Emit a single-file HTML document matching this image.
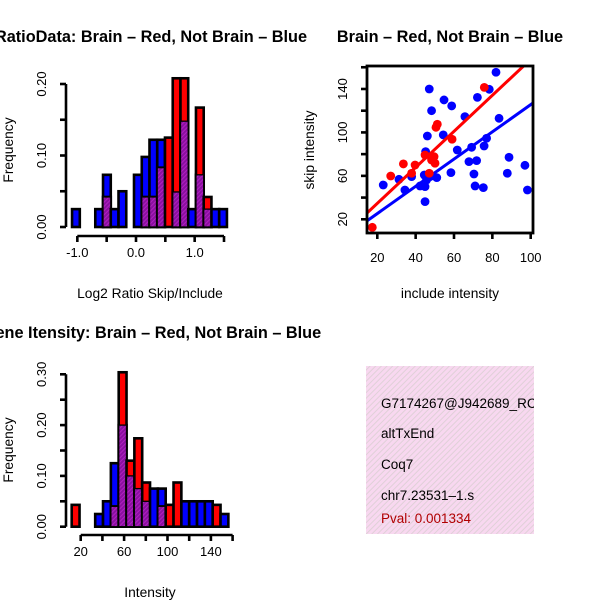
<!DOCTYPE html>
<html><head><meta charset="utf-8"><style>
html,body{margin:0;padding:0;background:#fff;}
svg{display:block;font-family:"Liberation Sans",sans-serif;}
</style></head><body>
<svg id="s" width="600" height="600" viewBox="0 0 600 600">
<defs>
<pattern id="hatch" width="3" height="3" patternUnits="userSpaceOnUse" patternTransform="rotate(45)">
<rect width="3" height="3" fill="#8a10a0"/><rect width="1" height="3" fill="#b020c0"/>
</pattern>
<pattern id="pinkhatch" width="4" height="4" patternUnits="userSpaceOnUse" patternTransform="rotate(45)">
<rect width="4" height="4" fill="#f8d8f0"/><rect width="1" height="4" fill="#e0d0d8"/>
</pattern>
<clipPath id="clipSc"><rect x="367" y="66" width="166" height="167"/></clipPath>
</defs>
<g id="p1"></g>
<g id="p2"></g>
<g id="p3"></g>
<g id="p4">
<rect x="366" y="366" width="168" height="168" fill="url(#pinkhatch)"/>
<text x="381" y="408" font-size="13.5">G7174267@J942689_RC</text>
<text x="381" y="438" font-size="13.5">altTxEnd</text>
<text x="381" y="469" font-size="13.5">Coq7</text>
<text x="381" y="500" font-size="13.5">chr7.23531–1.s</text>
<text x="381" y="523" font-size="13.5" fill="#b00000">Pval: 0.001334</text>
</g>
<rect x="534" y="366" width="66" height="170" fill="#fff"/>
</svg>
<script>
// ---- Panel 1 data
const h1Blue=[0.025,0,0,0.025,0.073,0.025,0.05,0,0.073,0.098,0.122,0.122,0,0.049,0.148,0.025,0.073,0.025,0.025,0.025];
const h1Red=[0,0,0,0,0.042,0,0,0,0,0.042,0.042,0.083,0.125,0.208,0.208,0,0.167,0.042,0,0];
const h1XTicks=[-1.0,-0.5,0.0,0.5,1.0,1.5];
const h1XLabels=["-1.0","","0.0","","1.0",""];
const h1YTicks=[0,0.05,0.10,0.15,0.20];
const h1YLabels=["0.00","","0.10","","0.20"];
// ---- Panel 3 data
const h3Blue=[0,0,0,0.025,0.05,0.125,0.2,0.1,0.075,0.05,0.075,0.075,0,0,0.05,0.05,0.05,0.05,0,0.025];
const h3Red=[0.043,0,0,0,0,0.04,0.304,0.13,0.174,0.087,0,0.04,0.043,0.087,0,0,0,0,0.043,0];
const h3XTicks=[20,40,60,80,100,120,140,160];
const h3XLabels=["20","","60","","100","","140",""];
const h3YTicks=[0,0.05,0.10,0.15,0.20,0.25,0.30];
const h3YLabels=["0.00","","0.10","","0.20","","0.30"];
// ---- Panel 2 data
const blueX=[81.9,47.1,78.4,54.8,58.8,48.3,72.2,65.7,83.5,54.4,46.1,45.2,61.7,69.2,77,75.7,67.8,71.8,88.7,87.8,97,98.3,70.4,58.4,71,75.3,44.5,47.5,51,44.9,42.3,37.9,31.3,23.1,34.4,44.9,45.7];
const blueY=[155.4,140,139.7,129.9,124.4,120,132.3,114.5,113,97.7,96.7,82.3,83.8,86.3,94.6,87.5,73.1,74,77.1,62.4,69.7,47,61.7,63,50.7,49.2,60.8,59.3,58.4,50.1,50.7,59.3,56.8,51.6,47,36.3,56.2];
const redX=[75.8,51.3,50.6,59,33.6,27,39.7,37.9,44.9,49.6,50.1,48.3,47.1,17.4];
const redY=[141.5,107.5,104.7,93.7,71,59.9,70,62.4,79.2,77.7,71.6,74.6,62.4,12.6];
const redFit=[1.5,1.658];
const blueFit=[0.2,1.254];
const scXTicks=[20,40,60,80,100];
const scYTicks=[20,40,60,80,100,120,140,160];
const scYLabels=["20","","60","","100","","140",""];

const NS="http://www.w3.org/2000/svg";
function mk(parent,tag,attrs){const e=document.createElementNS(NS,tag);for(const k in attrs)e.setAttribute(k,attrs[k]);parent.appendChild(e);return e;}

function histogram(g,cfg,blue,red,xt,xl,yt,yl){
  const X=v=>cfg.x0+(v-cfg.xv0)*cfg.xs;
  const Y=v=>cfg.y0-v*cfg.ys;
  const bw=cfg.bw;
  for(let i=0;i<blue.length;i++){
    const x=X(cfg.start+i*bw), w=bw*cfg.xs;
    const b=blue[i], r=red[i], m=Math.min(b,r);
    if(b>0){const e=mk(g,'rect',{x:x,y:Y(b),width:w,height:Y(0)-Y(b),fill:'#0000ff',stroke:'#000','stroke-width':2.6});
      
      }
    if(r>0){const e=mk(g,'rect',{x:x,y:Y(r),width:w,height:Y(0)-Y(r),fill:'#ff0000',stroke:'#000','stroke-width':2.6});
      
      }
    if(m>0){const e=mk(g,'rect',{x:x,y:Y(m),width:w,height:Y(0)-Y(m),fill:'url(#hatch)',stroke:'#000','stroke-width':1.3});
      
      }
  }
  const xa=mk(g,'line',{x1:X(xt[0]),x2:X(xt[xt.length-1]),y1:cfg.xay,y2:cfg.xay,stroke:'#000','stroke-width':2.6});
  
  
  xt.forEach((v,i)=>{mk(g,'line',{x1:X(v),x2:X(v),y1:cfg.xay,y2:cfg.xay+6,stroke:'#000','stroke-width':2.6});
    if(xl[i]){const t=mk(g,'text',{x:X(v),y:cfg.xay+21,'font-size':13,'text-anchor':'middle'});t.textContent=xl[i];
      
      }});
  const ya=mk(g,'line',{x1:cfg.yax,x2:cfg.yax,y1:Y(yt[0]),y2:Y(yt[yt.length-1]),stroke:'#000','stroke-width':2.6});
  
  
  yt.forEach((v,i)=>{mk(g,'line',{x1:cfg.yax,x2:cfg.yax-6,y1:Y(v),y2:Y(v),stroke:'#000','stroke-width':2.6});
    if(yl[i]){const t=mk(g,'text',{x:0,y:0,'font-size':13,'text-anchor':'middle',transform:`translate(${cfg.yax-20},${Y(v)}) rotate(-90)`});t.textContent=yl[i];
      
      }});
}

const g1=document.getElementById('p1');
histogram(g1,{x0:136,xv0:0,xs:58.67,y0:227,ys:715,bw:0.132,start:-1.09,xay:236,yax:66},h1Blue,h1Red,h1XTicks,h1XLabels,h1YTicks,h1YLabels);
const g3=document.getElementById('p3');
histogram(g3,{x0:80.7,xv0:20,xs:1.085,y0:526.7,ys:508,bw:7.22,start:11.7,xay:535,yax:66},h3Blue,h3Red,h3XTicks,h3XLabels,h3YTicks,h3YLabels);

const g2=document.getElementById('p2');
const SX=v=>377.3+(v-20)*1.9175, SY=v=>219.3-(v-20)*1.086;
{
  const cg=mk(g2,'g',{'clip-path':'url(#clipSc)'});
  const lx0=10,lx1=105;
  const bl=mk(cg,'line',{x1:SX(lx0),y1:SY(blueFit[0]+blueFit[1]*lx0),x2:SX(lx1),y2:SY(blueFit[0]+blueFit[1]*lx1),stroke:'#0000ff','stroke-width':3});
  
  
  blueX.forEach((v,i)=>{const c=mk(cg,'circle',{cx:SX(v),cy:SY(blueY[i]),r:4.4,fill:'#0000ff'});
    
    });
  const rl=mk(cg,'line',{x1:SX(lx0),y1:SY(redFit[0]+redFit[1]*lx0),x2:SX(lx1),y2:SY(redFit[0]+redFit[1]*lx1),stroke:'#ff0000','stroke-width':3});
  
  
  redX.forEach((v,i)=>{const c=mk(cg,'circle',{cx:SX(v),cy:SY(redY[i]),r:4.4,fill:'#ff0000'});
    
    });
  const box=mk(g2,'rect',{x:367,y:66,width:166,height:167,fill:'none',stroke:'#000','stroke-width':2.8});
  
  
  scXTicks.forEach(v=>{mk(g2,'line',{x1:SX(v),x2:SX(v),y1:233,y2:239,stroke:'#000','stroke-width':2.6});
    const t=mk(g2,'text',{x:SX(v),y:262,'font-size':13,'text-anchor':'middle'});t.textContent=String(v);
    
    });
  scYTicks.forEach((v,i)=>{mk(g2,'line',{x1:367,x2:361,y1:SY(v),y2:SY(v),stroke:'#000','stroke-width':2.6});
    if(scYLabels[i]){const t=mk(g2,'text',{x:0,y:0,'font-size':13,'text-anchor':'middle',transform:`translate(347,${SY(v)}) rotate(-90)`});t.textContent=scYLabels[i];
      
      }});
}
</script>
<script>
const s=document.getElementById('s');
function T(x,y,txt,size,opts,name){const t=document.createElementNS("http://www.w3.org/2000/svg",'text');
  t.setAttribute('x',x);t.setAttribute('y',y);t.setAttribute('font-size',size);t.setAttribute('text-anchor','middle');
  for(const k in opts)t.setAttribute(k,opts[k]);t.textContent=txt;
  
  
  s.appendChild(t);}
T(151,42,"RatioData: Brain – Red, Not Brain – Blue",16.3,{'font-weight':'bold'},'ratio-title');
T(450,42,"Brain – Red, Not Brain – Blue",16.3,{'font-weight':'bold'},'scatter-title');
T(152,338,"Gene Itensity: Brain – Red, Not Brain – Blue",16.3,{'font-weight':'bold'},'intensity-title');
T(150,298,"Log2 Ratio Skip/Include",13.8,{},'ratio-x-title');
T(450,298,"include intensity",13.8,{},'scatter-x-title');
T(150,597,"Intensity",13.8,{},'intensity-x-title');
T(0,0,"Frequency",13.8,{transform:'translate(13,150) rotate(-90)'},'ratio-y-title');
T(0,0,"skip intensity",13.8,{transform:'translate(314,150) rotate(-90)'},'scatter-y-title');
T(0,0,"Frequency",13.8,{transform:'translate(13,450) rotate(-90)'},'intensity-y-title');
</script>
</body></html>
